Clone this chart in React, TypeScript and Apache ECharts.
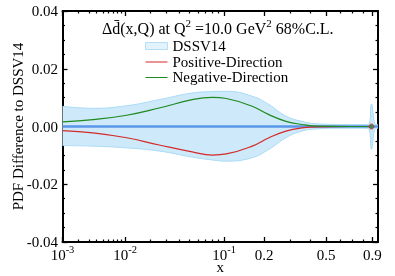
import React, { useEffect, useRef } from 'react';
import * as echarts from 'echarts';

// ---- data (x values are momentum fractions) ----
const xMin = 0.001;
const xMax = 0.961;

const bandX = [0.001, 0.0035, 0.0105, 0.025, 0.053, 0.08, 0.104, 0.164, 0.216, 0.281, 0.355, 0.451, 0.6, 0.75, 0.857, 0.889, 0.929, 0.961];
const bandUpper = [0.0070, 0.0063, 0.0072, 0.0093, 0.0116, 0.0121, 0.0122, 0.0105, 0.0076, 0.0036, 0.0018, 0.0009, 0.0007, 0.0007, 0.0008, 0.0078, 0.0008, 0.0006];
const bandLower = [-0.0066, -0.0068, -0.0074, -0.0085, -0.0106, -0.0116, -0.0120, -0.0108, -0.0079, -0.0039, -0.0016, -0.0008, -0.0006, -0.0006, -0.0008, -0.0079, -0.0008, -0.0006];

const lineX = [0.001, 0.0035, 0.0105, 0.025, 0.053, 0.08, 0.104, 0.164, 0.216, 0.281, 0.355, 0.451, 0.695, 0.889];
const positiveDir = [-0.0014, -0.0022, -0.0039, -0.0064, -0.0088, -0.0099, -0.0095, -0.0068, -0.0039, -0.0016, -0.0005, -0.0001, 0, 0];
const negativeDir = [0.0016, 0.0024, 0.0039, 0.0064, 0.0093, 0.0101, 0.0097, 0.0070, 0.0041, 0.0018, 0.0007, 0.0001, 0, 0];

const centralX = [0.001, 0.961];
const centralY = [0, 0];

const markerX = [0.889];
const markerY = [0];

const xMajorTicks = [0.001, 0.01, 0.1, 0.2, 0.5, 0.9];
const xMajorLabels = ['{b|10}{s|-3}', '{b|10}{s|-2}', '{b|10}{s|-1}', '{b|0.2}', '{b|0.5}', '{b|0.9}'];
const xMinorTicks = [0.002, 0.003, 0.004, 0.005, 0.006, 0.007, 0.008, 0.009,
  0.02, 0.03, 0.04, 0.05, 0.06, 0.07, 0.08, 0.09, 0.3, 0.4, 0.6, 0.7, 0.8];

const yTickValues = [-0.04, -0.02, 0, 0.02, 0.04];
const yTickLabels = ['-0.04', '-0.02', '0.00', '0.02', '0.04'];

const FONT = 'Liberation Serif';
const ux = (x: number) => Math.pow(x, 0.2);
const LINE_ICON = 'path://M0,3.4H22V4.6H0Z M0,0H0.01V0.01H0Z M0,7H0.01V7.01H0Z';

export default function App() {
  const ref = useRef<HTMLDivElement>(null);
  useEffect(() => {
    if (!ref.current) return;
    const chart = echarts.init(ref.current, null, { renderer: 'svg' });
    const majorU = xMajorTicks.map(ux);
    const minorU = xMinorTicks.map(ux);
    const axisLine = { show: true, onZero: false, lineStyle: { color: '#000', width: 2 } };
    const xCommon: any = {
      type: 'value', min: ux(xMin), max: ux(xMax), splitLine: { show: false }, gridIndex: 0,
    };
    const xLabel = (v: number) => {
      let best = 0;
      majorU.forEach((m, i) => { if (Math.abs(m - v) < Math.abs(majorU[best] - v)) best = i; });
      return xMajorLabels[best];
    };
    const yLabel = (v: number) => {
      let best = 0;
      yTickValues.forEach((m, i) => { if (Math.abs(m - v) < Math.abs(yTickValues[best] - v)) best = i; });
      return yTickLabels[best];
    };
    const yCommon: any = {
      type: 'value', min: -0.04, max: 0.04, interval: 0.02, splitLine: { show: false },
      axisLine,
      axisTick: { show: true, inside: true, length: 5, lineStyle: { color: '#000', width: 1.3 } },
      minorTick: { show: true, splitNumber: 4, length: 2.5, lineStyle: { color: '#000', width: 1.2 } },
      minorSplitLine: { show: false },
    };
    const bandEdge = '#a9dbf5';
    const bandFill = '#cde9fa';
    const SM = 0.45;
    chart.setOption({
      animation: false,
      grid: { left: 62.5, right: 17, top: 11, bottom: 34, containLabel: false, outerBoundsMode: 'none' },
      title: {
        text: '{a|Δd̄(x,Q) at Q}{s|2}{a| =10.0 GeV}{s|2}{a| 68%C.L.}',
        left: 102, top: 17, padding: 0,
        textStyle: {
          fontWeight: 'normal',
          rich: {
            a: { fontFamily: FONT, fontSize: 16, fontWeight: 'normal', color: '#000', lineHeight: 22 },
            s: { fontFamily: FONT, fontSize: 11, fontWeight: 'normal', color: '#000', lineHeight: 12, verticalAlign: 'top' },
          },
        },
      },
      legend: {
        orient: 'vertical', left: 145, top: 38.5, padding: 0,
        itemWidth: 22, itemHeight: 7, itemGap: 0.5,
        textStyle: { fontFamily: FONT, fontSize: 15, color: '#000' },
        data: [
          { name: 'DSSV14', icon: 'rect', itemStyle: { color: '#e2f3fc', borderColor: '#b3def5', borderWidth: 1 } },
          { name: 'Positive-Direction', icon: LINE_ICON, itemStyle: { color: '#d42a2a', borderWidth: 0 } },
          { name: 'Negative-Direction', icon: LINE_ICON, itemStyle: { color: '#1f8a1f', borderWidth: 0 } },
        ],
      },
      xAxis: [
        {
          ...xCommon, position: 'bottom', axisLine,
          axisTick: { show: true, inside: true, length: 5, customValues: majorU, lineStyle: { color: '#000', width: 1.3 } },
          axisLabel: {
            show: true, customValues: majorU, formatter: xLabel, margin: 2,
            rich: {
              b: { fontFamily: FONT, fontSize: 15, color: '#000', lineHeight: 22 },
              s: { fontFamily: FONT, fontSize: 10.5, color: '#000', lineHeight: 11, verticalAlign: 'top' },
            },
          },
          name: 'x', nameLocation: 'middle', nameGap: 17.5, nameMoveOverlap: false,
          nameTextStyle: { fontFamily: FONT, fontSize: 15, color: '#000' },
        },
        {
          ...xCommon, position: 'bottom', axisLine: { show: false, onZero: false },
          axisTick: { show: true, inside: true, length: 2.5, customValues: minorU, lineStyle: { color: '#000', width: 1.2 } },
          axisLabel: { show: false },
        },
        {
          ...xCommon, position: 'top', axisLine,
          axisTick: { show: true, inside: true, length: 5, customValues: majorU, lineStyle: { color: '#000', width: 1.3 } },
          axisLabel: { show: false },
        },
        {
          ...xCommon, position: 'top', axisLine: { show: false, onZero: false },
          axisTick: { show: true, inside: true, length: 2.5, customValues: minorU, lineStyle: { color: '#000', width: 1.2 } },
          axisLabel: { show: false },
        },
      ],
      yAxis: [
        {
          ...yCommon, position: 'left',
          axisLabel: { formatter: yLabel, fontFamily: FONT, fontSize: 15, color: '#000', margin: 4.5 },
          name: 'PDF Difference to DSSV14', nameLocation: 'middle', nameGap: 37, nameRotate: 90, nameMoveOverlap: false,
          nameTextStyle: { fontFamily: FONT, fontSize: 15, color: '#000' },
        },
        { ...yCommon, position: 'right', axisLabel: { show: false } },
      ],
      series: [
        {
          name: 'DSSV14', type: 'line', xAxisIndex: 0, yAxisIndex: 0,
          data: bandX.map((x, i) => [ux(x), bandUpper[i]]),
          symbol: 'none', smooth: SM, lineStyle: { color: bandEdge, width: 1 },
          itemStyle: { color: bandFill },
          areaStyle: { color: bandFill, opacity: 1, origin: 0 }, z: 1, silent: true,
        },
        {
          name: 'DSSV14-low', type: 'line', xAxisIndex: 0, yAxisIndex: 0,
          data: bandX.map((x, i) => [ux(x), bandLower[i]]),
          symbol: 'none', smooth: SM, lineStyle: { color: bandEdge, width: 1 },
          itemStyle: { color: bandFill },
          areaStyle: { color: bandFill, opacity: 1, origin: 0 }, z: 1, silent: true,
        },
        {
          name: 'central', type: 'line', xAxisIndex: 0, yAxisIndex: 0,
          data: centralX.map((x, i) => [ux(x), centralY[i]]),
          symbol: 'none', lineStyle: { color: '#5b96e8', width: 2.6 }, z: 3,
        },
        {
          name: 'Positive-Direction', type: 'line', xAxisIndex: 0, yAxisIndex: 0,
          data: lineX.map((x, i) => [ux(x), positiveDir[i]]),
          symbol: 'none', smooth: SM, itemStyle: { color: '#d42a2a' },
          lineStyle: { color: '#d42a2a', width: 1.2 }, z: 4,
        },
        {
          name: 'Negative-Direction', type: 'line', xAxisIndex: 0, yAxisIndex: 0,
          data: lineX.map((x, i) => [ux(x), negativeDir[i]]),
          symbol: 'none', smooth: SM, itemStyle: { color: '#1f8a1f' },
          lineStyle: { color: '#1f8a1f', width: 1.2 }, z: 5,
        },
        {
          name: 'end', type: 'scatter', xAxisIndex: 0, yAxisIndex: 0,
          data: markerX.map((x, i) => [ux(x), markerY[i]]),
          symbol: 'circle', symbolSize: 5,
          itemStyle: { color: '#3a7d3a', borderColor: '#d42a2a', borderWidth: 1 }, z: 6,
        },
      ],
    });
    return () => chart.dispose();
  }, []);
  return <div ref={ref} style={{ position: 'fixed', left: 0, top: 0, width: 395, height: 276 }} />;
}
